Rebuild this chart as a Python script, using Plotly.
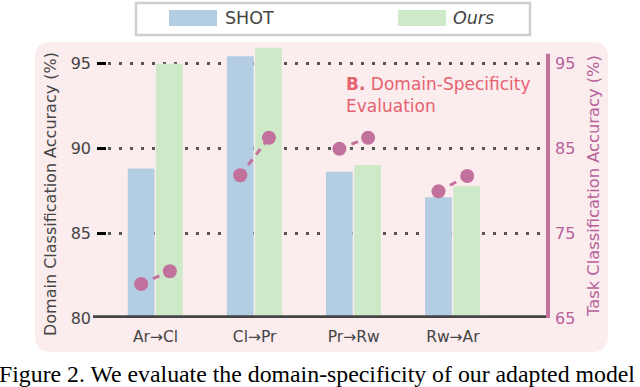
import plotly.graph_objects as go

# data
categories = ["Ar→Cl", "Cl→Pr", "Pr→Rw", "Rw→Ar"]
series_names = ["SHOT", "Ours"]
domain_shot = [88.8, 95.4, 88.6, 87.1]
domain_ours = [94.95, 95.9, 89.0, 87.75]
task_shot = [69.0, 81.8, 84.9, 79.9]
task_ours = [70.5, 86.2, 86.2, 81.7]
left_ticks = [80, 85, 90, 95]
right_ticks = [65, 75, 85, 95]
left_title = "Domain Classification Accuracy (%)"
right_title = "Task Classification Accuracy (%)"
caption = "Figure 2. We evaluate the domain-specificity of our adapted model"

W, H = 640, 387
ML, MR, MT, MB = 97, 92, 44, 69
PW, PH = W - ML - MR, H - MT - MB

COL = {
    "shot": "#b3cde3",
    "ours": "#cde9c8",
    "task": "#c2719d",
    "task_text": "#b8619a",
    "text": "#454545",
    "panel": "#fbecee",
    "note": "#e5626e",
}
FONT = "DejaVu Sans"


def px(x, y):
    # pixel -> paper coords
    return (x - ML) / PW, (H - MB - y) / PH


def rounded_rect(x0, y0, x1, y1, r):
    def p(x, y):
        a, b = px(x, y)
        return f"{a:.5f},{b:.5f}"
    return (f"M{p(x0 + r, y0)} L{p(x1 - r, y0)} Q{p(x1, y0)} {p(x1, y0 + r)} "
            f"L{p(x1, y1 - r)} Q{p(x1, y1)} {p(x1 - r, y1)} L{p(x0 + r, y1)} "
            f"Q{p(x0, y1)} {p(x0, y1 - r)} L{p(x0, y0 + r)} Q{p(x0, y0)} {p(x0 + r, y0)} Z")


xs = list(range(len(categories)))
fig = go.Figure()

fig.add_trace(go.Bar(x=xs, y=domain_shot, name=series_names[0], width=0.27, offset=-0.28,
                     marker=dict(color=COL["shot"], line_width=0), showlegend=False))
fig.add_trace(go.Bar(x=xs, y=domain_ours, name=series_names[1], width=0.27, offset=0.005,
                     marker=dict(color=COL["ours"], line_width=0), showlegend=False))

# task accuracy pairs
d = 0.145
lx, ly = [], []
for i, (a, b) in enumerate(zip(task_shot, task_ours)):
    lx += [i - d, i + d, None]
    ly += [a, b, None]
fig.add_trace(go.Scatter(
    x=lx, y=ly, yaxis="y2", mode="lines+markers", showlegend=False,
    line=dict(color=COL["task"], width=3, dash="7px,6px"),
    marker=dict(size=14, color=COL["task"]),
))

shapes = [
    dict(type="path", xref="paper", yref="paper", path=rounded_rect(35, 42, 608, 352, 16),
         fillcolor=COL["panel"], line_width=0, layer="below"),
    # bottom axis line
    dict(type="line", xref="paper", yref="y", x0=px(93, 0)[0], x1=1.0, y0=80, y1=80,
         line=dict(color=COL["text"], width=5.5), layer="above"),
    # right axis line
    dict(type="line", xref="paper", yref="y2", x0=1.0, x1=1.0, y0=65, y1=96.1,
         line=dict(color=COL["task"], width=4), layer="above"),
    # legend box
    dict(type="rect", xref="paper", yref="paper",
         x0=px(136, 0)[0], x1=px(530, 0)[0], y0=px(0, 3)[1], y1=px(0, 35)[1],
         fillcolor="white", line=dict(color="#cfcfcf", width=2.5)),
    dict(type="rect", xref="paper", yref="paper",
         x0=px(169, 0)[0], x1=px(217, 0)[0], y0=px(0, 10)[1], y1=px(0, 26)[1],
         fillcolor=COL["shot"], line_width=0),
    dict(type="rect", xref="paper", yref="paper",
         x0=px(398, 0)[0], x1=px(446, 0)[0], y0=px(0, 10)[1], y1=px(0, 26)[1],
         fillcolor=COL["ours"], line_width=0),
]

annotations = [
    dict(text=series_names[0], x=px(223, 0)[0], y=px(0, 18)[1], xanchor="left", yanchor="middle",
         font=dict(family=FONT, size=17.5, color=COL["text"])),
    dict(text="<i>" + series_names[1] + "</i>", x=px(451, 0)[0], y=px(0, 18)[1], xanchor="left",
         yanchor="middle", font=dict(family=FONT, size=17.5, color=COL["text"])),
    dict(text="<b>B.</b> Domain-Specificity<br>Evaluation", x=px(344, 0)[0], y=px(0, 72)[1],
         xanchor="left", yanchor="top", align="left",
         font=dict(family=FONT, size=17, color=COL["note"])),
    dict(text=left_title, x=px(50, 0)[0], y=px(0, 194)[1], textangle=-90,
         xanchor="center", yanchor="middle", font=dict(family=FONT, size=16, color=COL["text"])),
    dict(text=right_title, x=px(594, 0)[0], y=px(0, 186)[1], textangle=-90,
         xanchor="center", yanchor="middle", font=dict(family=FONT, size=16.3, color=COL["task_text"])),
    dict(text=caption, x=px(-3, 0)[0], y=px(0, 374)[1], xanchor="left", yanchor="middle",
         font=dict(family="Liberation Serif", size=23.8, color="black")),
]
for a in annotations:
    a.update(xref="paper", yref="paper", showarrow=False)

fig.update_layout(
    width=W, height=H,
    margin=dict(l=ML, r=MR, t=MT, b=MB),
    paper_bgcolor="white",
    plot_bgcolor="rgba(0,0,0,0)",
    barmode="overlay",
    showlegend=False,
    shapes=shapes,
    annotations=annotations,
    xaxis=dict(
        range=[-0.59, 3.96],
        tickmode="array", tickvals=xs, ticktext=categories,
        showgrid=False, zeroline=False, showline=False, ticks="",
        tickfont=dict(family=FONT, size=15.5, color=COL["text"]),
        ticklabelstandoff=7,
    ),
    yaxis=dict(
        range=[80, 80 + PH / 17.0],
        tickmode="array", tickvals=left_ticks,
        showgrid=True, gridcolor="#555555", gridwidth=2.5, griddash="2.5px,8.5px",
        zeroline=False, showline=False,
        ticks="inside", ticklen=9, tickwidth=3, tickcolor="black",
        tickfont=dict(family=FONT, size=16, color=COL["text"]),
        ticklabelstandoff=5,
    ),
    yaxis2=dict(
        overlaying="y", side="right",
        range=[65, 65 + PH / 8.5],
        tickmode="array", tickvals=right_ticks,
        showgrid=False, zeroline=False, showline=False, ticks="",
        tickfont=dict(family=FONT, size=16, color=COL["task_text"]),
        ticklabelstandoff=6,
    ),
)

# drop the page's default body margin so the figure sits at the window's corner
fig.write_html("out.html", config={"displayModeBar": False},
               post_script="document.body.style.margin='0';")
